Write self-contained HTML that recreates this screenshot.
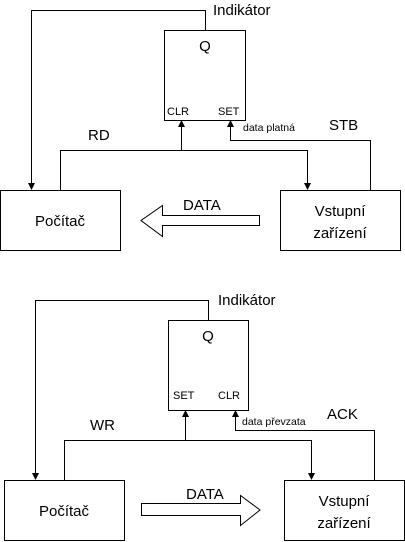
<!DOCTYPE html>
<html><head><meta charset="utf-8"><style>
html,body{margin:0;padding:0;background:#fff;}
svg{display:block;font-family:"Liberation Sans",sans-serif;}
</style></head><body>
<svg width="405" height="542" viewBox="0 0 405 542" xmlns="http://www.w3.org/2000/svg">
<g fill="none" stroke="#000" stroke-width="1">
<rect x="164.5" y="30.5" width="81" height="90"/>
<rect x="0.5" y="190.5" width="120" height="60"/>
<rect x="280.5" y="190.5" width="120" height="60"/>
<path d="M205.5,30 V10.5 H31.5 V184"/>
<path d="M60.5,190 V150.5 H307.5 V184"/>
<path d="M181.5,150 V126"/>
<path d="M370.5,190 V140.5 H230.5 V126"/>
<path d="M259.5,215.5 H162.5 V205.5 L141,220.5 L162.5,236.5 V225.5 H259.5 Z"/>
<rect x="168.5" y="320.5" width="80" height="90"/>
<rect x="4.5" y="480.5" width="120" height="60"/>
<rect x="284.5" y="480.5" width="120" height="60"/>
<path d="M208.5,320 V300.5 H35.5 V474"/>
<path d="M64.5,480 V440.5 H311.5 V474"/>
<path d="M185.5,440 V416"/>
<path d="M374.5,480 V430.5 H235.5 V416"/>
<path d="M141.5,503.5 H240.5 V495.5 L260,510 L240.5,525.5 V515.5 H141.5 Z"/>
</g>
<g fill="#000">
<path d="M28,183 L35,183 L31.5,190 Z"/>
<path d="M304,183 L311,183 L307.5,190 Z"/>
<path d="M178,127 L185,127 L181.5,120 Z"/>
<path d="M227,127 L234,127 L230.5,120 Z"/>
<path d="M32,473 L39,473 L35.5,480 Z"/>
<path d="M308,473 L315,473 L311.5,480 Z"/>
<path d="M182,417 L189,417 L185.5,410 Z"/>
<path d="M232,417 L239,417 L235.5,410 Z"/>
</g>
<g fill="#000" font-size="15">
<text x="213" y="15">Indikátor</text>
<text x="205" y="51" text-anchor="middle">Q</text>
<text x="88" y="140">RD</text>
<text x="329" y="130">STB</text>
<text x="183" y="210">DATA</text>
<text x="60" y="226" text-anchor="middle">Počítač</text>
<text x="340" y="216" text-anchor="middle">Vstupní</text>
<text x="340" y="238" text-anchor="middle">zařízení</text>
<text x="218" y="305">Indikátor</text>
<text x="208" y="341" text-anchor="middle">Q</text>
<text x="90" y="430">WR</text>
<text x="327" y="419">ACK</text>
<text x="186" y="499">DATA</text>
<text x="64" y="516" text-anchor="middle">Počítač</text>
<text x="344" y="506" text-anchor="middle">Vstupní</text>
<text x="344" y="528" text-anchor="middle">zařízení</text>
</g>
<g fill="#000" font-size="11">
<text x="167" y="115">CLR</text>
<text x="218" y="115">SET</text>
<text x="173" y="399">SET</text>
<text x="218" y="399">CLR</text>
</g>
<g fill="#000" font-size="10.5">
<text x="243" y="131">data platná</text>
<text x="242" y="425">data převzata</text>
</g>
</svg>
</body></html>
